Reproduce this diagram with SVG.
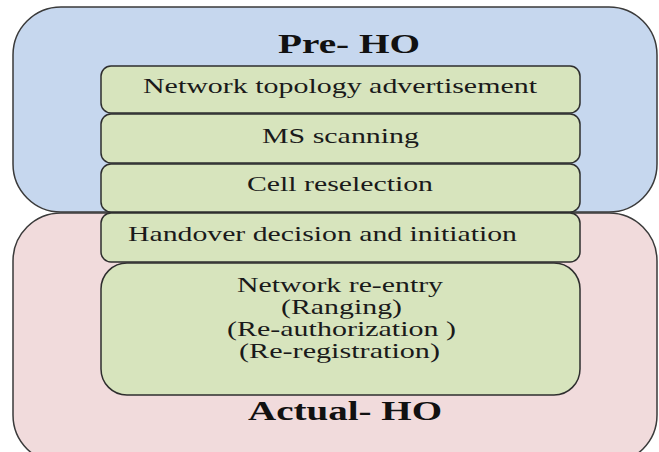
<svg xmlns="http://www.w3.org/2000/svg" width="659" height="452" viewBox="0 0 659 452">
<style>
.outer{stroke:#3a3a3a;stroke-width:1.5}
.step{fill:#d7e4bd;stroke:#2e2e2e;stroke-width:1.5}
.t{font-size:21px;fill:#1a1a1a}
.h{font-size:27px;font-weight:bold;fill:#111}
</style>
<rect width="659" height="452" fill="#fff"/>
<g font-family="'Liberation Serif', 'Times New Roman', serif">
<g id="pre-ho">
<rect class="outer" x="13" y="7" width="644" height="205" rx="48" ry="48" fill="#c6d7ee"/>
<text class="h" x="278" y="53" textLength="142" lengthAdjust="spacingAndGlyphs">Pre- HO</text>
</g>
<g id="actual-ho">
<rect class="outer" x="13" y="213" width="644" height="250" rx="48" ry="48" fill="#f1dbdc"/>
<text class="h" x="248" y="420" textLength="194" lengthAdjust="spacingAndGlyphs">Actual- HO</text>
</g>
<g id="connectors"></g>
<g id="step1">
<rect class="step" x="101" y="66" width="479" height="47" rx="10"/>
<text class="t" x="143" y="93" textLength="394" lengthAdjust="spacingAndGlyphs">Network topology advertisement</text>
</g>
<g id="step2">
<rect class="step" x="101" y="114" width="479" height="49" rx="10"/>
<text class="t" x="262" y="143" textLength="157" lengthAdjust="spacingAndGlyphs">MS scanning</text>
</g>
<g id="step3">
<rect class="step" x="101" y="164" width="479" height="48" rx="10"/>
<text class="t" x="247" y="191" textLength="186" lengthAdjust="spacingAndGlyphs">Cell reselection</text>
</g>
<g id="step4">
<rect class="step" x="101" y="213" width="479" height="49" rx="10"/>
<text class="t" x="128" y="241" textLength="389" lengthAdjust="spacingAndGlyphs">Handover decision and initiation</text>
</g>
<g id="step5">
<rect class="step" x="101" y="263" width="479" height="132" rx="26"/>
<text class="t" x="237" y="292" textLength="206" lengthAdjust="spacingAndGlyphs">Network re-entry</text>
<text class="t" x="281" y="314" textLength="121" lengthAdjust="spacingAndGlyphs">(Ranging)</text>
<text class="t" x="227" y="336" textLength="229" lengthAdjust="spacingAndGlyphs">(Re-authorization )</text>
<text class="t" x="239" y="358" textLength="201" lengthAdjust="spacingAndGlyphs">(Re-registration)</text>
</g>
</g>
</svg>
